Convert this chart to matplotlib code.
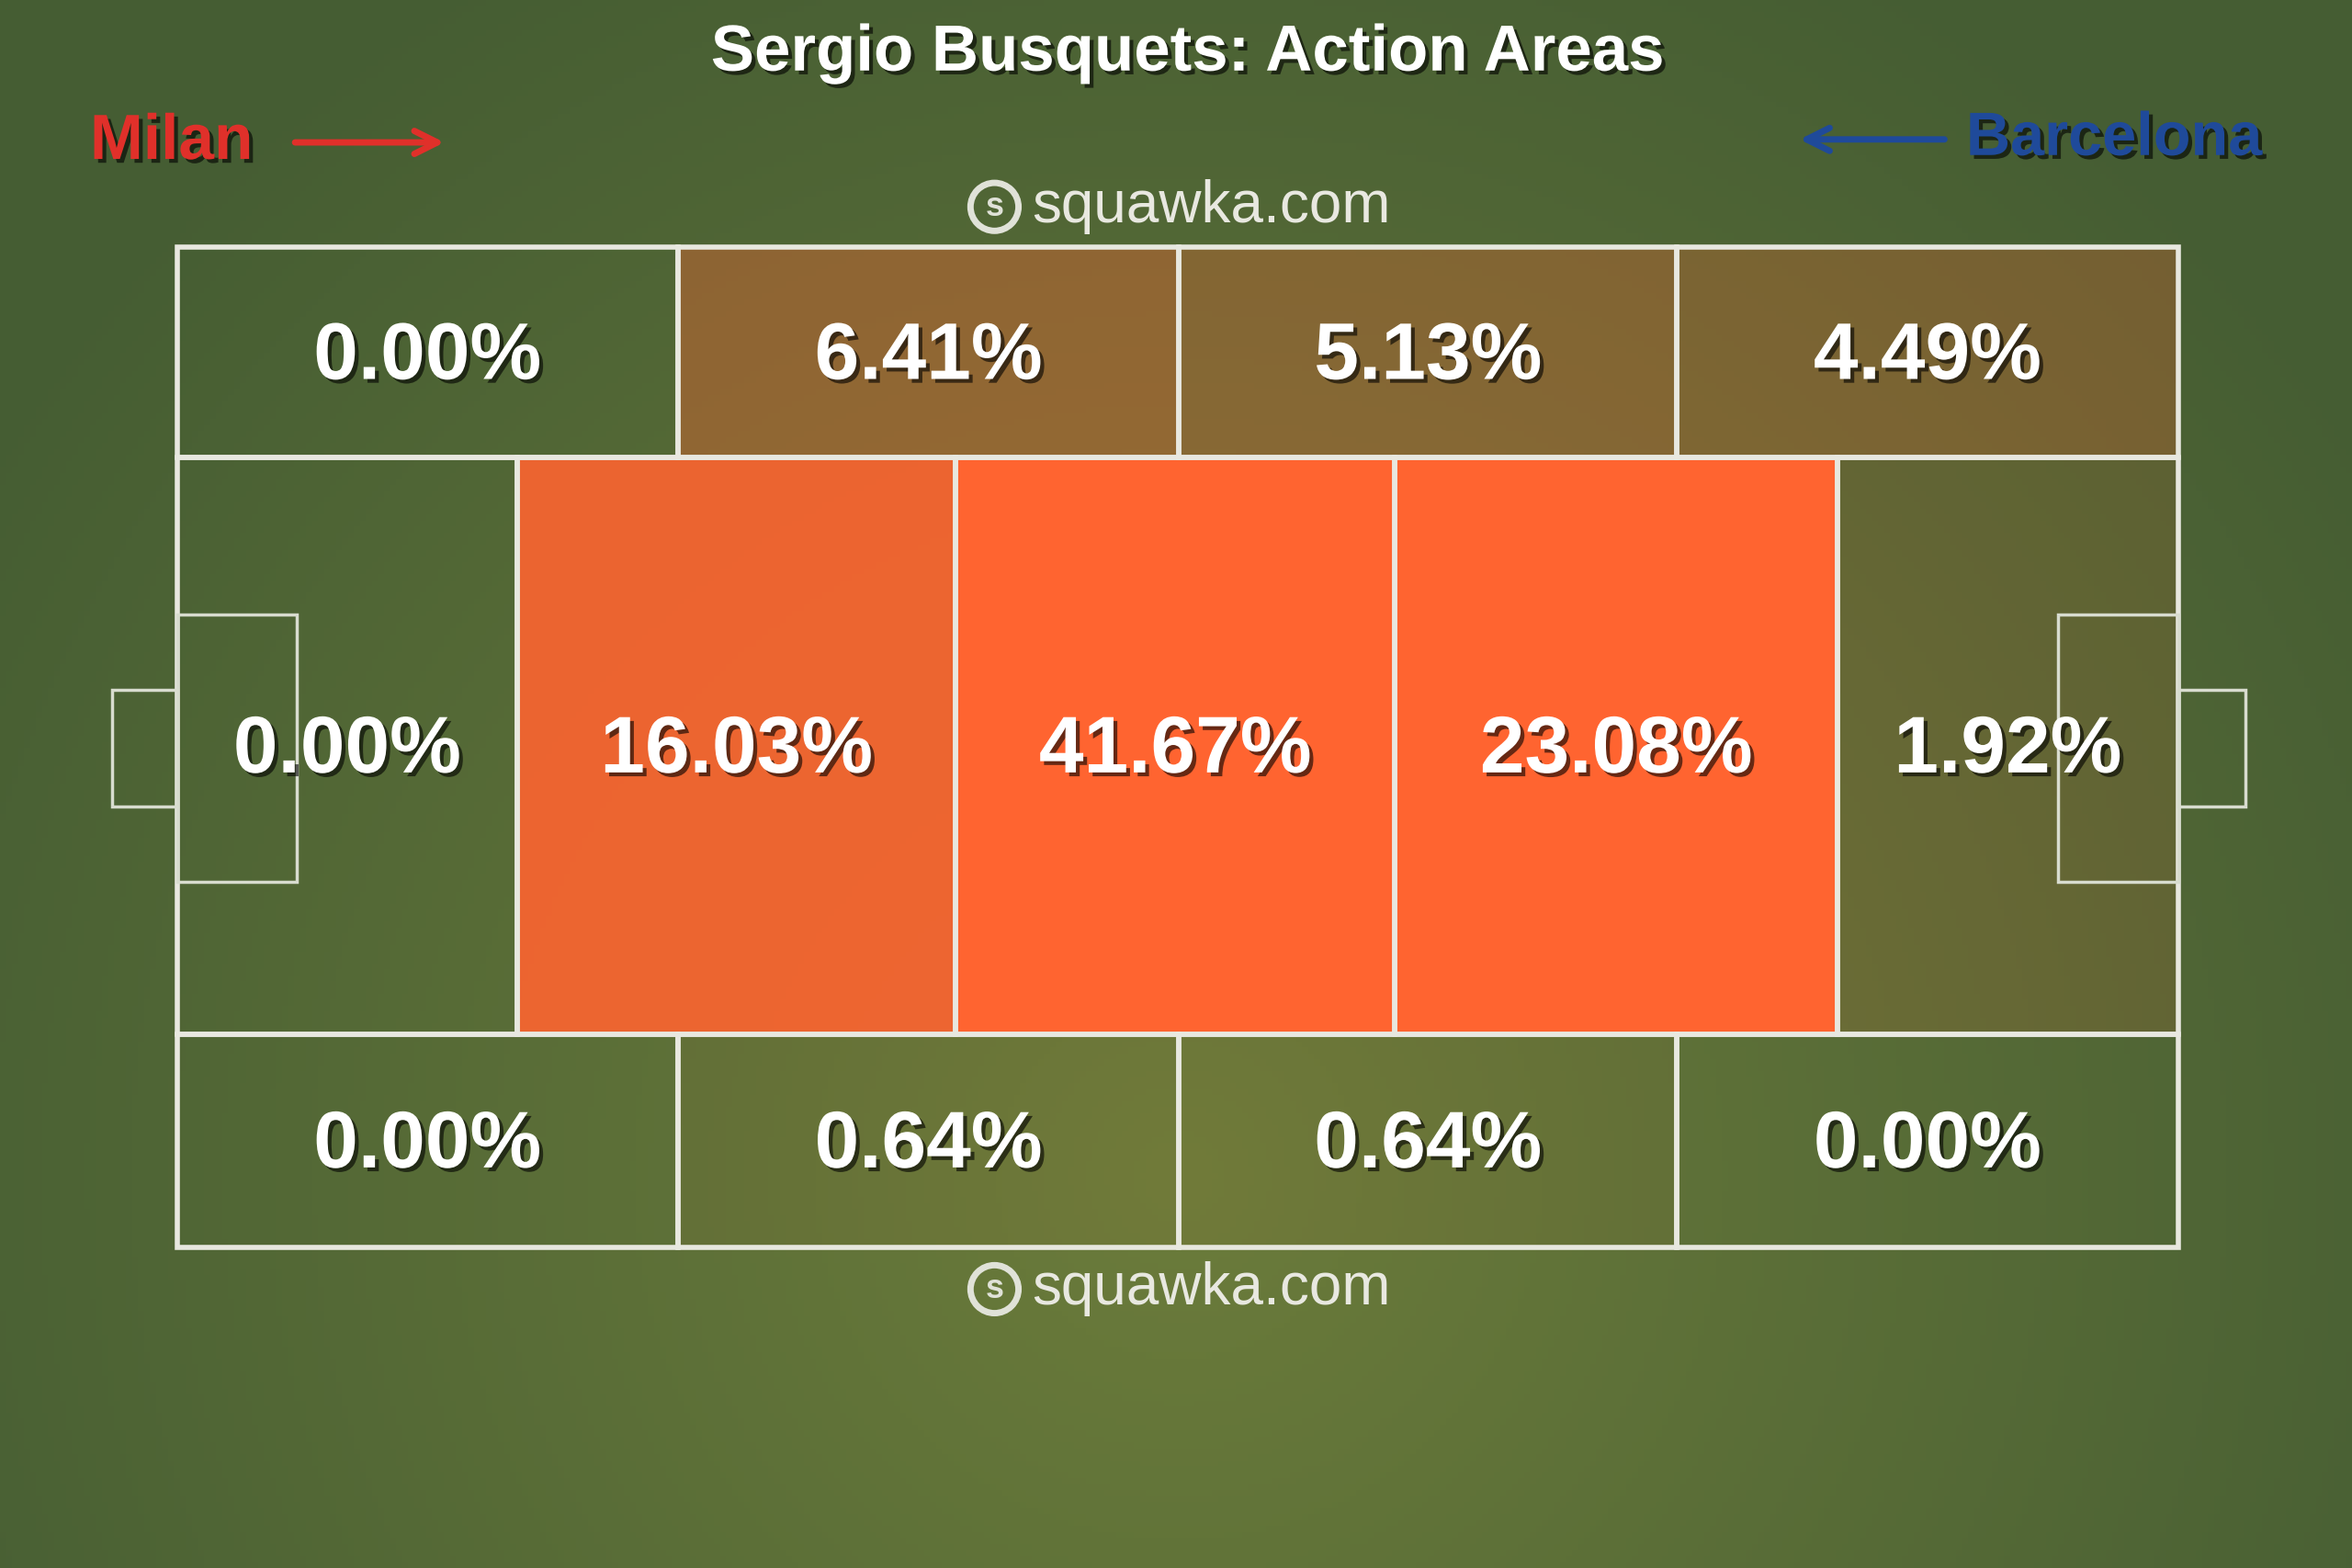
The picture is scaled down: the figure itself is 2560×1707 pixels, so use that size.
import numpy as np
import matplotlib.pyplot as plt
from matplotlib.patches import Rectangle, Circle
import matplotlib.patheffects as pe

plt.rcParams['font.family'] = ['Liberation Sans', 'DejaVu Sans']

title = "Sergio Busquets: Action Areas"
top_vals = [0.00, 6.41, 5.13, 4.49]
mid_vals = [0.00, 16.03, 41.67, 23.08, 1.92]
bot_vals = [0.00, 0.64, 0.64, 0.00]

# layout in reference pixel units (1568 x 1046)
W, H = 1568, 1046
y_top, y_m1, y_m2, y_bot = 165, 305, 690, 832
edge_x = [118, 452, 786, 1118, 1452]
mid_x = [118, 345, 637, 930, 1225, 1452]

fig = plt.figure(figsize=(25.6, 17.07), dpi=100)
ax = fig.add_axes([0, 0, 1, 1])
ax.set_xlim(0, W)
ax.set_ylim(H, 0)
ax.axis('off')

# background radial gradient
yy, xx = np.mgrid[0:H:4, 0:W:4]
r = np.sqrt(((xx - W / 2) / (W * 0.6)) ** 2 + ((yy - H * 0.75) / (H * 0.9)) ** 2)
r = np.clip(r, 0, 1)[..., None]
inner = np.array([0x6c, 0x7c, 0x3b]) / 255
outer = np.array([0x45, 0x5d, 0x33]) / 255
bg = inner * (1 - r) + outer * r
ax.imshow(bg, extent=[0, W, H, 0], aspect='auto', zorder=0)

orange = '#ff6430'
def cell_alpha(v):
    return min(1.0, v / 18)

shadow = [pe.withSimplePatchShadow(offset=(3, -3), shadow_rgbFace='black', alpha=0.6)]
line_kw = dict(edgecolor='#e8e8e0', linewidth=4, zorder=3)

def draw_row(xs, y0, y1, vals):
    for i, v in enumerate(vals):
        a, b = xs[i], xs[i + 1]
        ax.add_patch(Rectangle((a, y0), b - a, y1 - y0, facecolor=orange,
                               alpha=cell_alpha(v), edgecolor='none', zorder=1))
        ax.add_patch(Rectangle((a, y0), b - a, y1 - y0, facecolor='none', **line_kw))
        ax.text((a + b) / 2, (y0 + y1) / 2 + 4, f"{v:.2f}%", color='white', fontsize=63,
                fontweight='bold', ha='center', va='center', zorder=4, path_effects=shadow)

draw_row(edge_x, y_top, y_m1, top_vals)
draw_row(mid_x, y_m1, y_m2, mid_vals)
draw_row(edge_x, y_m2, y_bot, bot_vals)

# penalty boxes and goals
thin = dict(facecolor='none', edgecolor='#d8dccf', linewidth=2.5, zorder=3)
ax.add_patch(Rectangle((118, 410), 80, 178, **thin))
ax.add_patch(Rectangle((75, 460), 43, 78, **thin))
ax.add_patch(Rectangle((1372, 410), 80, 178, **thin))
ax.add_patch(Rectangle((1452, 460), 45, 78, **thin))

ax.text(W / 2 + 8, 36, title, color='white', fontsize=51, fontweight='bold',
        ha='center', va='center', path_effects=shadow)
ax.text(60, 95, "Milan", color='#e0302a', fontsize=50, fontweight='bold',
        ha='left', va='center', path_effects=shadow)
ax.annotate('', xy=(298, 95), xytext=(195, 95),
            arrowprops=dict(arrowstyle='->', color='#e0302a', lw=5, mutation_scale=45))
ax.text(1508, 93, "Barcelona", color='#1f4a9a', fontsize=48, fontweight='bold',
        ha='right', va='center', path_effects=shadow)
ax.annotate('', xy=(1198, 93), xytext=(1298, 93),
            arrowprops=dict(arrowstyle='->', color='#1f4a9a', lw=5, mutation_scale=45))

for yv in (138, 860):
    ax.add_patch(Circle((663, yv), 16, facecolor='none', edgecolor='#e0e2d8',
                        linewidth=5, zorder=5))
    ax.text(663, yv, "s", color='#e0e2d8', fontsize=26, fontweight='bold',
            ha='center', va='center', zorder=5)
    ax.text(688, yv, "squawka.com", color='#e8e8e0', fontsize=46,
            ha='left', va='center', zorder=5)

fig.savefig('out.png', dpi=100)
